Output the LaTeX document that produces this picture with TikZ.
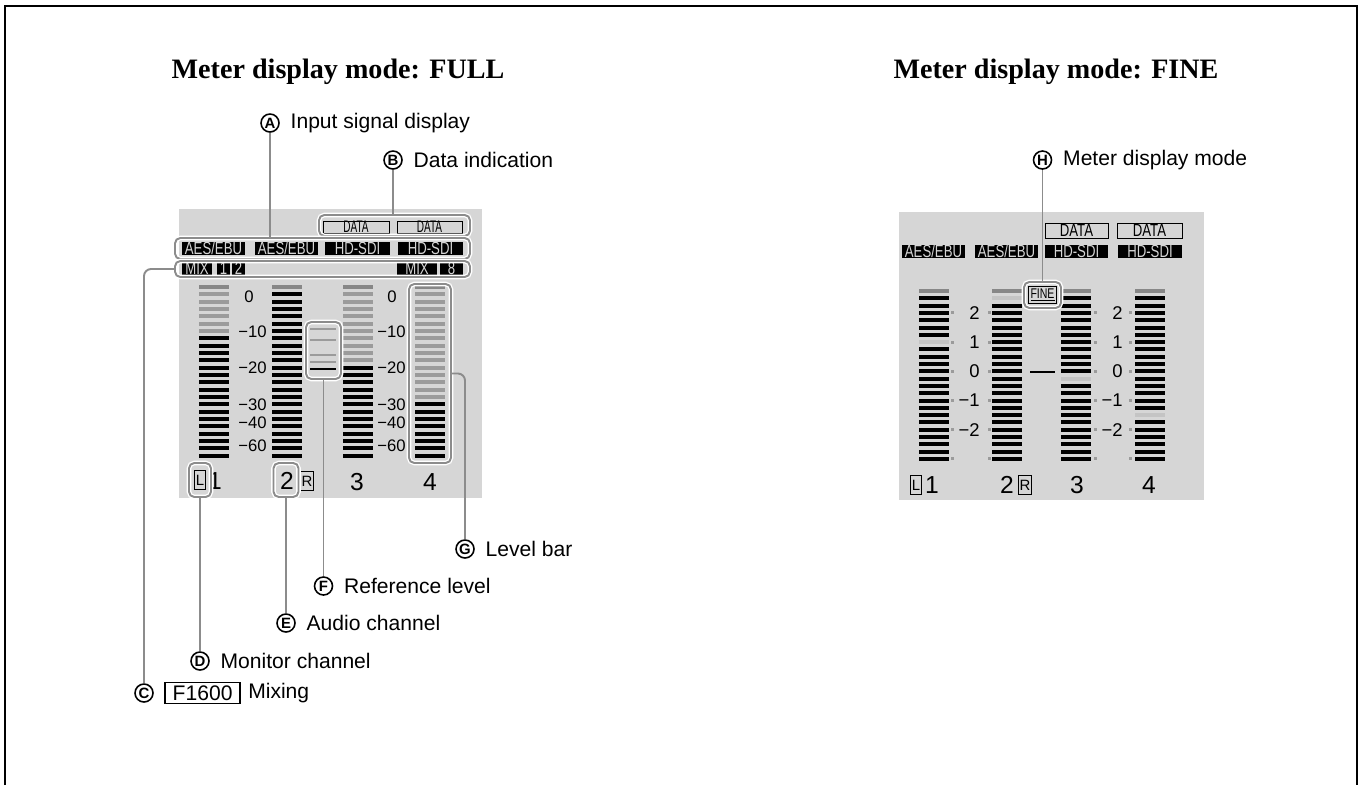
\documentclass[tikz,border=0pt]{standalone}
\usepackage{fontspec}
\setmainfont{Liberation Serif}
\setsansfont{Liberation Sans}
\newfontfamily\lcdfont[FakeStretch=0.75]{Liberation Sans}
\newfontfamily\lcdslim[FakeStretch=0.6]{Liberation Sans}
\usetikzlibrary{positioning}

\definecolor{panelgray}{RGB}{214,214,214}
\definecolor{bargray}{RGB}{155,155,155}
\definecolor{topgray}{RGB}{135,135,135}
\definecolor{palegray}{RGB}{196,196,196}
\definecolor{leadgray}{RGB}{140,140,140}

\tikzset{
  ttl/.style={font=\bfseries\fontsize{16}{19}\selectfont},
  callout/.style={font=\sffamily\fontsize{12}{14}\selectfont, inner sep=1pt},
  tag/.style={circle, draw, line width=0.9pt, inner sep=0pt, minimum size=0.36cm,
    font=\sffamily\bfseries\fontsize{8.5}{8.5}\selectfont},
  hilite/.style={draw=leadgray, line width=1.1pt, rounded corners=3pt, inner sep=0pt,
    preaction={draw=white, line width=2.6pt}},
  lead/.style={leadgray, line width=1.1pt},
  lcdneg/.style={fill=black, text=panelgray, inner sep=0pt, minimum height=0.27cm,
    font=\lcdfont\fontsize{10}{10}\selectfont},
  lcdout/.style={draw=black, line width=0.5pt, inner sep=0pt, minimum height=0.3cm,
    font=\lcdfont\fontsize{10}{10}\selectfont},
  scalelbl/.style={font=\sffamily\fontsize{9.5}{10}\selectfont, inner sep=0pt},
  chnum/.style={font=\sffamily\fontsize{14}{14}\selectfont, inner sep=0pt},
  chbox/.style={draw, line width=0.5pt, inner xsep=0.6pt, inner ysep=0pt,
    minimum height=0.38cm, font=\sffamily\fontsize{8.5}{9}\selectfont},
}

\begin{document}
\begin{tikzpicture}[x=0.02cm,y=-0.02cm]
  \useasboundingbox (0,0) rectangle (1362,785);
  % Frame
  \draw[line width=1.2pt] (5,785) -- (5,6) -- (1357,6) -- (1357,785);
  % Titles
  \node[ttl, anchor=base] (ttlfull) at (338,78) {Meter display mode: FULL};
  \node[ttl, anchor=base] (ttlfine) at (1056,78) {Meter display mode: FINE};

  %% FULL mode screen
  \fill[panelgray] (179,209) rectangle (482,498);
  % Data indication
  \node[lcdout, font=\lcdslim\fontsize{9.5}{9.5}\selectfont, minimum width=1.32cm, minimum height=0.24cm] (dat1) at (356,227) {DATA};
  \node[lcdout, font=\lcdslim\fontsize{9.5}{9.5}\selectfont, minimum width=1.3cm, minimum height=0.24cm] (dat2) at (429.5,227) {DATA};
  % Input signals
  \node[lcdneg, minimum width=1.26cm] (in1) at (213.5,248.5) {AES/EBU};
  \node[lcdneg, minimum width=1.26cm] (in2) at (286.5,248.5) {AES/EBU};
  \node[lcdneg, minimum width=1.3cm] (in3) at (357.5,248.5) {HD-SDI};
  \node[lcdneg, minimum width=1.3cm] (in4) at (430.5,248.5) {HD-SDI};
  % Mixing
  \node[lcdneg, minimum width=0.6cm, minimum height=0.22cm] (mixl) at (197,268.5) {MIX};
  \node[lcdneg, minimum width=0.26cm, minimum height=0.22cm] (mixa) at (223.5,268.5) {1};
  \node[lcdneg, minimum width=0.26cm, minimum height=0.22cm] (mixb) at (238.5,268.5) {2};
  \node[lcdneg, minimum width=0.8cm, minimum height=0.22cm] (mixr) at (417,268.5) {MIX};
  \node[lcdneg, minimum width=0.46cm, minimum height=0.22cm] (mixc) at (451.5,268.5) {8};
  % Level bars
  \foreach \x/\g in {199/7,272/1,343/11,415/16} {
    \foreach \i in {1,...,24} {
      \ifnum\i>\g\relax \def\barcol{black}\else\def\barcol{bargray}\fi
      \ifnum\i=1 \def\barcol{topgray}\fi
      \fill[\barcol] (\x,{287+(\i-1)*7.33-2}) rectangle ++(30,4);
    }
  }
  % Scales
  \node[scalelbl] (sa0) at (249,297) {0};
  \foreach \y/\t [count=\n] in {332/10,368/20,405/30,423/40,446/60}
    \node[scalelbl, anchor=east] (sa\n) at (267,\y) {−\t};
  \node[scalelbl] (sb0) at (392,297) {0};
  \foreach \y/\t [count=\n] in {332/10,368/20,405/30,423/40,446/60}
    \node[scalelbl, anchor=east] (sb\n) at (406,\y) {−\t};
  % Reference level marks
  \foreach \ry in {329,340,355,362}
    \draw[bargray, line width=0.6pt] (310,\ry) -- (336,\ry);
  \draw[line width=0.9pt] (310,369) -- (336,369);
  % Channels
  \node[chbox] (chL) at (200,480) {L};
  \node[chnum] (ch1) at (215,481) {1};
  \node[chnum] (ch2) at (287,481) {2};
  \node[chbox] (chR) at (307,481) {R};
  \node[chnum] (ch3) at (357,482) {3};
  \node[chnum] (ch4) at (430,482) {4};
  % Highlights
  \node[hilite, minimum width=3.02cm, minimum height=0.42cm] (hlData) at (394.5,225.5) {};
  \node[hilite, minimum width=5.9cm, minimum height=0.42cm] (hlIn) at (322.5,248.5) {};
  \node[hilite, minimum width=5.9cm, minimum height=0.32cm] (hlMix) at (322.5,269) {};
  \node[hilite, minimum width=0.7cm, minimum height=1.14cm] (hlRef) at (323.5,350.5) {};
  \node[hilite, minimum width=0.84cm, minimum height=3.58cm] (hlBar) at (430,373.5) {};
  \node[hilite, minimum width=0.44cm, minimum height=0.68cm] (hlL) at (200,480) {};
  \node[hilite, minimum width=0.5cm, minimum height=0.68cm] (hl2) at (286,480) {};
  % Callouts
  \node[tag] (tagA) at (270,123) {A};
  \node[callout, right=5pt of tagA] (lblA) {Input signal display};
  \node[tag] (tagB) at (393,160) {B};
  \node[callout, right=5pt of tagB] (lblB) {Data indication};
  \node[tag] (tagG) at (465,549) {G};
  \node[callout, right=5pt of tagG] (lblG) {Level bar};
  \node[tag] (tagF) at (323.5,586) {F};
  \node[callout, right=5pt of tagF] (lblF) {Reference level};
  \node[tag] (tagE) at (286,623) {E};
  \node[callout, right=5pt of tagE] (lblE) {Audio channel};
  \node[tag] (tagD) at (200,661) {D};
  \node[callout, right=5pt of tagD] (lblD) {Monitor channel};
  \node[tag] (tagC) at (144,693) {C};
  \node[draw, line width=0.9pt, inner sep=0pt, minimum width=1.5cm, minimum height=0.42cm,
    font=\sffamily\fontsize{12}{14}\selectfont, right=6pt of tagC] (boxC) {F1600\hspace{6pt}};
  \node[callout, right=3pt of boxC] (lblC) {Mixing};
  % Leaders
  \draw[lead] (tagA) -- (tagA |- hlIn.north);
  \draw[lead] (tagB) -- (tagB |- hlData.north);
  \draw[lead, rounded corners=4pt] (hlMix.west) -| (tagC.north);
  \draw[lead] (hlL) -- (tagD);
  \draw[lead] (hl2) -- (tagE);
  \draw[lead] (hlRef) -- (tagF);
  \draw[lead, rounded corners=4pt] (hlBar.east) -| (tagG.north);

  %% FINE mode screen
  \fill[panelgray] (899,212) rectangle (1204,500);
  \node[lcdout, minimum width=1.26cm] (fdat1) at (1076.5,230.5) {DATA};
  \node[lcdout, minimum width=1.3cm] (fdat2) at (1149.5,230.5) {DATA};
  \node[lcdneg, minimum width=1.26cm] (fin1) at (933.5,251.5) {AES/EBU};
  \node[lcdneg, minimum width=1.26cm] (fin2) at (1006.5,251.5) {AES/EBU};
  \node[lcdneg, minimum width=1.26cm] (fin3) at (1076.5,251.5) {HD-SDI};
  \node[lcdneg, minimum width=1.28cm] (fin4) at (1150,251.5) {HD-SDI};
  % Level bars
  \foreach \x/\p in {919/8,992/2,1061/13,1135/18} {
    \foreach \i in {1,...,24} {
      \ifnum\i=\p\relax \def\barcol{palegray}\else\def\barcol{black}\fi
      \ifnum\i=1 \def\barcol{topgray}\fi
      \fill[\barcol] (\x,{291+(\i-1)*7.3-2}) rectangle ++(30,4);
    }
  }
  % Ticks
  \foreach \i in {4,8,...,24}
    \foreach \tx in {950.5,987.5,1093.5,1129}
      \fill[bargray] (\tx,{291+(\i-1)*7.3-1.5}) rectangle ++(3,3);
  % Scales
  \foreach \k/\t in {4/2,8/1,12/0,16/−1,20/−2} {
    \node[scalelbl, font=\sffamily\fontsize{10.5}{10.5}\selectfont, anchor=east] (fa\k) at (980,{291+(\k-1)*7.3}) {\t};
    \node[scalelbl, font=\sffamily\fontsize{10.5}{10.5}\selectfont, anchor=east] (fb\k) at (1123,{291+(\k-1)*7.3}) {\t};
  }
  \draw[line width=0.9pt] (1030,372) -- (1055,372);
  % Channels
  \node[chbox] (fchL) at (916,485) {L};
  \node[chnum] (fch1) at (932,485) {1};
  \node[chnum] (fch2) at (1007,485) {2};
  \node[chbox] (fchR) at (1025,485) {R};
  \node[chnum] (fch3) at (1077,485) {3};
  \node[chnum] (fch4) at (1149,485) {4};
  % Meter display mode
  \node[draw, line width=0.4pt, inner sep=1pt, font=\lcdfont\fontsize{8}{8}\selectfont] (finetag) at (1042.5,295) {\underline{FINE}};
  \node[hilite, minimum width=0.74cm, minimum height=0.52cm] (hlFine) at (1042.5,295) {};
  \node[tag] (tagH) at (1042.5,160) {H};
  \node[callout, right=5pt of tagH] (lblH) {Meter display mode};
  \draw[lead] (tagH) -- (hlFine);
\end{tikzpicture}
\end{document}
